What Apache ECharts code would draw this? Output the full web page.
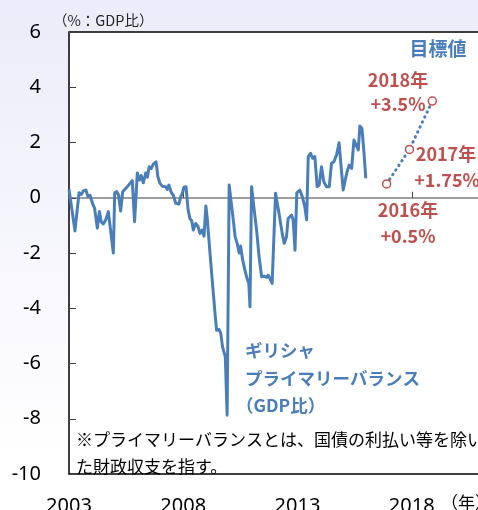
<!DOCTYPE html>
<html>
<head>
    <meta charset="utf-8">
    <title>ギリシャ プライマリーバランス</title>
    <script src="https://cdn.jsdelivr.net/npm/echarts@6/dist/echarts.min.js"></script>
    <style type="text/css">
        *{margin: 0;padding: 0;}
        body{width: 478px;height: 510px;overflow: hidden;}
    </style>
</head>
<body>
<div id="main" style="width: 478px;height: 510px;"></div>
<script type="text/javascript">
    // 月次のプライマリーバランス（GDP比, %）
    var years = [
        2003.00, 2003.26, 2003.44, 2003.54, 2003.63, 2003.74, 2003.83, 2003.92,
        2004.04, 2004.12, 2004.24, 2004.33, 2004.41, 2004.50, 2004.61, 2004.72, 2004.82, 2004.94,
        2005.00, 2005.09, 2005.17, 2005.26, 2005.35, 2005.44, 2005.55, 2005.67, 2005.77, 2005.87, 2005.99,
        2006.08, 2006.16, 2006.25, 2006.36, 2006.43, 2006.51, 2006.60, 2006.69, 2006.81, 2006.89, 2006.98,
        2007.08, 2007.23, 2007.30, 2007.37, 2007.48, 2007.56, 2007.67, 2007.74, 2007.81, 2007.89, 2007.96,
        2008.03, 2008.12, 2008.21, 2008.29, 2008.37, 2008.44, 2008.54, 2008.64, 2008.73, 2008.82, 2008.91, 2008.99,
        2009.05, 2009.17, 2009.29, 2009.39, 2009.46, 2009.57, 2009.64, 2009.72, 2009.78, 2009.84, 2009.92,
        2010.01, 2010.12, 2010.19, 2010.27, 2010.36, 2010.45, 2010.51, 2010.60, 2010.70, 2010.77, 2010.87, 2010.92, 2010.99,
        2011.09, 2011.21, 2011.32, 2011.43, 2011.54, 2011.65, 2011.72, 2011.79, 2011.89,
        2012.04, 2012.19, 2012.33, 2012.42, 2012.52, 2012.59, 2012.67, 2012.74, 2012.81, 2012.89, 2012.97,
        2013.10, 2013.21, 2013.32, 2013.40, 2013.47, 2013.57, 2013.66, 2013.76, 2013.86, 2013.95,
        2014.05, 2014.15, 2014.27, 2014.39, 2014.49, 2014.59, 2014.71, 2014.82, 2014.91,
        2015.00, 2015.09, 2015.17, 2015.26, 2015.37, 2015.47, 2015.55, 2015.66, 2015.73, 2015.82, 2015.90, 2015.99
    ];
    var balance = [
        0.31, -1.2, 0.18, 0.12, 0.25, 0.28, 0.04, 0.09,
        -0.23, -0.38, -1.1, -0.5, -0.87, -0.95, -0.8, -0.5, -1.17, -2.0,
        0.18, 0.22, 0.1, -0.48, 0.22, 0.3, 0.4, 0.52, 0.62, -0.87, 0.9,
        0.64, 0.8, 0.54, 0.9, 0.74, 1.12, 1.06, 1.22, 1.3, 0.76, 0.52,
        0.42, 0.4, 0.3, 0.46, 0.18, 0.1, -0.2, -0.14, -0.23, 0.04, 0.16,
        0.38, 0.4, -0.42, -0.75, -0.83, -1.17, -0.93, -1.03, -1.29, -1.17, -1.39, -0.3,
        -0.75, -2.0, -3.2, -4.19, -4.8, -4.77, -4.9, -5.4, -5.42, -5.76, -7.87,
        0.46, -0.32, -0.8, -1.41, -1.65, -2.0, -1.75, -2.25, -2.62, -2.86, -3.1, -3.95, 0.4,
        -0.33, -1.17, -2.14, -2.86, -2.84, -2.88, -2.8, -2.92, -3.1,
        0.16, -0.56, -1.29, -1.65, -1.41, -0.75, -0.8, -0.63, -0.8, -1.9, 0.18,
        0.28, 0.04, -0.33, -0.8, 1.49, 1.61, 1.43, 1.49, 0.4, 0.46,
        1.12, 0.58, 0.4, 0.4, 1.25, 1.3, 1.55, 1.99, 1.12,
        0.28, 0.64, 0.94, 1.18, 1.06, 2.09, 2.15, 1.73, 2.6, 2.51, 1.73, 0.7
    ];
    // 目標値
    var targetYears = [2016.9, 2017.9, 2018.9];
    var targetValues = [0.5, 1.75, 3.5];
    var targetLabels = ['2016年', '2017年', '2018年'];
    var targetTexts = ['+0.5%', '+1.75%', '+3.5%'];

    var BLUE = '#4A7EBB';
    var RED = '#C0504D';
    var JP = '"Noto Sans CJK JP"';

    var lineData = [];
    for (var i = 0; i < years.length; i++) {
        lineData.push([years[i], balance[i]]);
    }
    var targetData = [];
    for (var i = 0; i < targetYears.length; i++) {
        targetData.push([targetYears[i], targetValues[i]]);
    }

    function txt(text, x, y, font, color, align) {
        return {
            type: 'text', x: x, y: y, silent: true, z: 100,
            style: {text: text, font: font, fill: color, align: align || 'left', verticalAlign: 'middle'}
        };
    }

    var myChart = echarts.init(document.getElementById('main'));
    var option = {
        animation: false,
        backgroundColor: {
            type: 'linear', x: 0, y: 0, x2: 0, y2: 1,
            colorStops: [{offset: 0, color: '#ECECFA'}, {offset: 0.9, color: '#FFFFFF'}, {offset: 1, color: '#FFFFFF'}]
        },
        grid: {
            left: 69,
            top: 32,
            bottom: 36,
            right: -48,
            containLabel: false,
            outerBoundsMode: 'none',
            show: true,
            backgroundColor: '#FFFFFF',
            borderColor: '#000000',
            borderWidth: 1.5
        },
        xAxis: [
            {
                type: 'value',
                position: 'bottom',
                min: 2003,
                max: 2023,
                interval: 5,
                axisLine: {show: false, onZero: false},
                axisTick: {show: false},
                splitLine: {show: false},
                axisLabel: {
                    margin: 22,
                    fontFamily: 'Noto Sans',
                    fontSize: 20,
                    color: '#000000',
                    formatter: function (v) { return String(v); }
                }
            },
            {
                type: 'value',
                position: 'bottom',
                min: 2003,
                max: 2023,
                interval: 5,
                axisLine: {show: true, onZero: true, lineStyle: {color: '#7F7F7F', width: 1.5}},
                axisTick: {show: true, inside: true, length: 6, lineStyle: {color: '#404040', width: 1}},
                axisLabel: {show: false},
                splitLine: {show: false}
            }
        ],
        yAxis: {
            type: 'value',
            min: -10,
            max: 6,
            interval: 2,
            axisLine: {show: false},
            axisTick: {show: true, inside: true, length: 7, lineStyle: {color: '#404040', width: 1}},
            splitLine: {show: false},
            axisLabel: {
                margin: 28,
                fontFamily: 'Noto Sans',
                fontSize: 20,
                color: '#000000'
            }
        },
        series: [
            {
                name: 'ギリシャ プライマリーバランス',
                type: 'line',
                xAxisIndex: 0,
                data: lineData,
                showSymbol: false,
                symbol: 'none',
                lineStyle: {color: BLUE, width: 3, join: 'round'},
                itemStyle: {color: BLUE},
                z: 3
            },
            {
                name: '目標値',
                type: 'line',
                xAxisIndex: 0,
                data: targetData,
                symbol: 'circle',
                symbolSize: 8,
                lineStyle: {color: BLUE, width: 3, type: [0.5, 5], cap: 'round'},
                itemStyle: {color: '#FFFFFF', borderColor: RED, borderWidth: 1.5},
                z: 4
            }
        ],
        graphic: [
            txt('（%：GDP比）', 53, 20, '14.5px ' + JP, '#262626'),
            txt('目標値', 438, 49, 'bold 19px ' + JP, BLUE, 'center'),
            txt(targetLabels[2], 398, 80, 'bold 18px ' + JP, RED, 'center'),
            txt(targetTexts[2], 398, 104, 'bold 18px ' + JP, RED, 'center'),
            txt(targetLabels[1], 446, 154, 'bold 18px ' + JP, RED, 'center'),
            txt(targetTexts[1], 447, 180, 'bold 18px ' + JP, RED, 'center'),
            txt(targetLabels[0], 408, 210, 'bold 18px ' + JP, RED, 'center'),
            txt(targetTexts[0], 408, 236, 'bold 18px ' + JP, RED, 'center'),
            txt('ギリシャ', 245, 350, 'bold 17.5px ' + JP, BLUE),
            txt('プライマリーバランス', 245, 378, 'bold 17.5px ' + JP, BLUE),
            txt('（GDP比）', 236, 405, 'bold 17.5px ' + JP, BLUE),
            txt('※プライマリーバランスとは、国債の利払い等を除い', 76, 440, '17px ' + JP, '#000000'),
            txt('た財政収支を指す。', 76, 467, '17px ' + JP, '#000000'),
            txt('（年）', 441, 503, '17px ' + JP, '#000000')
        ]
    };
    myChart.setOption(option);
</script>
</body>
</html>
